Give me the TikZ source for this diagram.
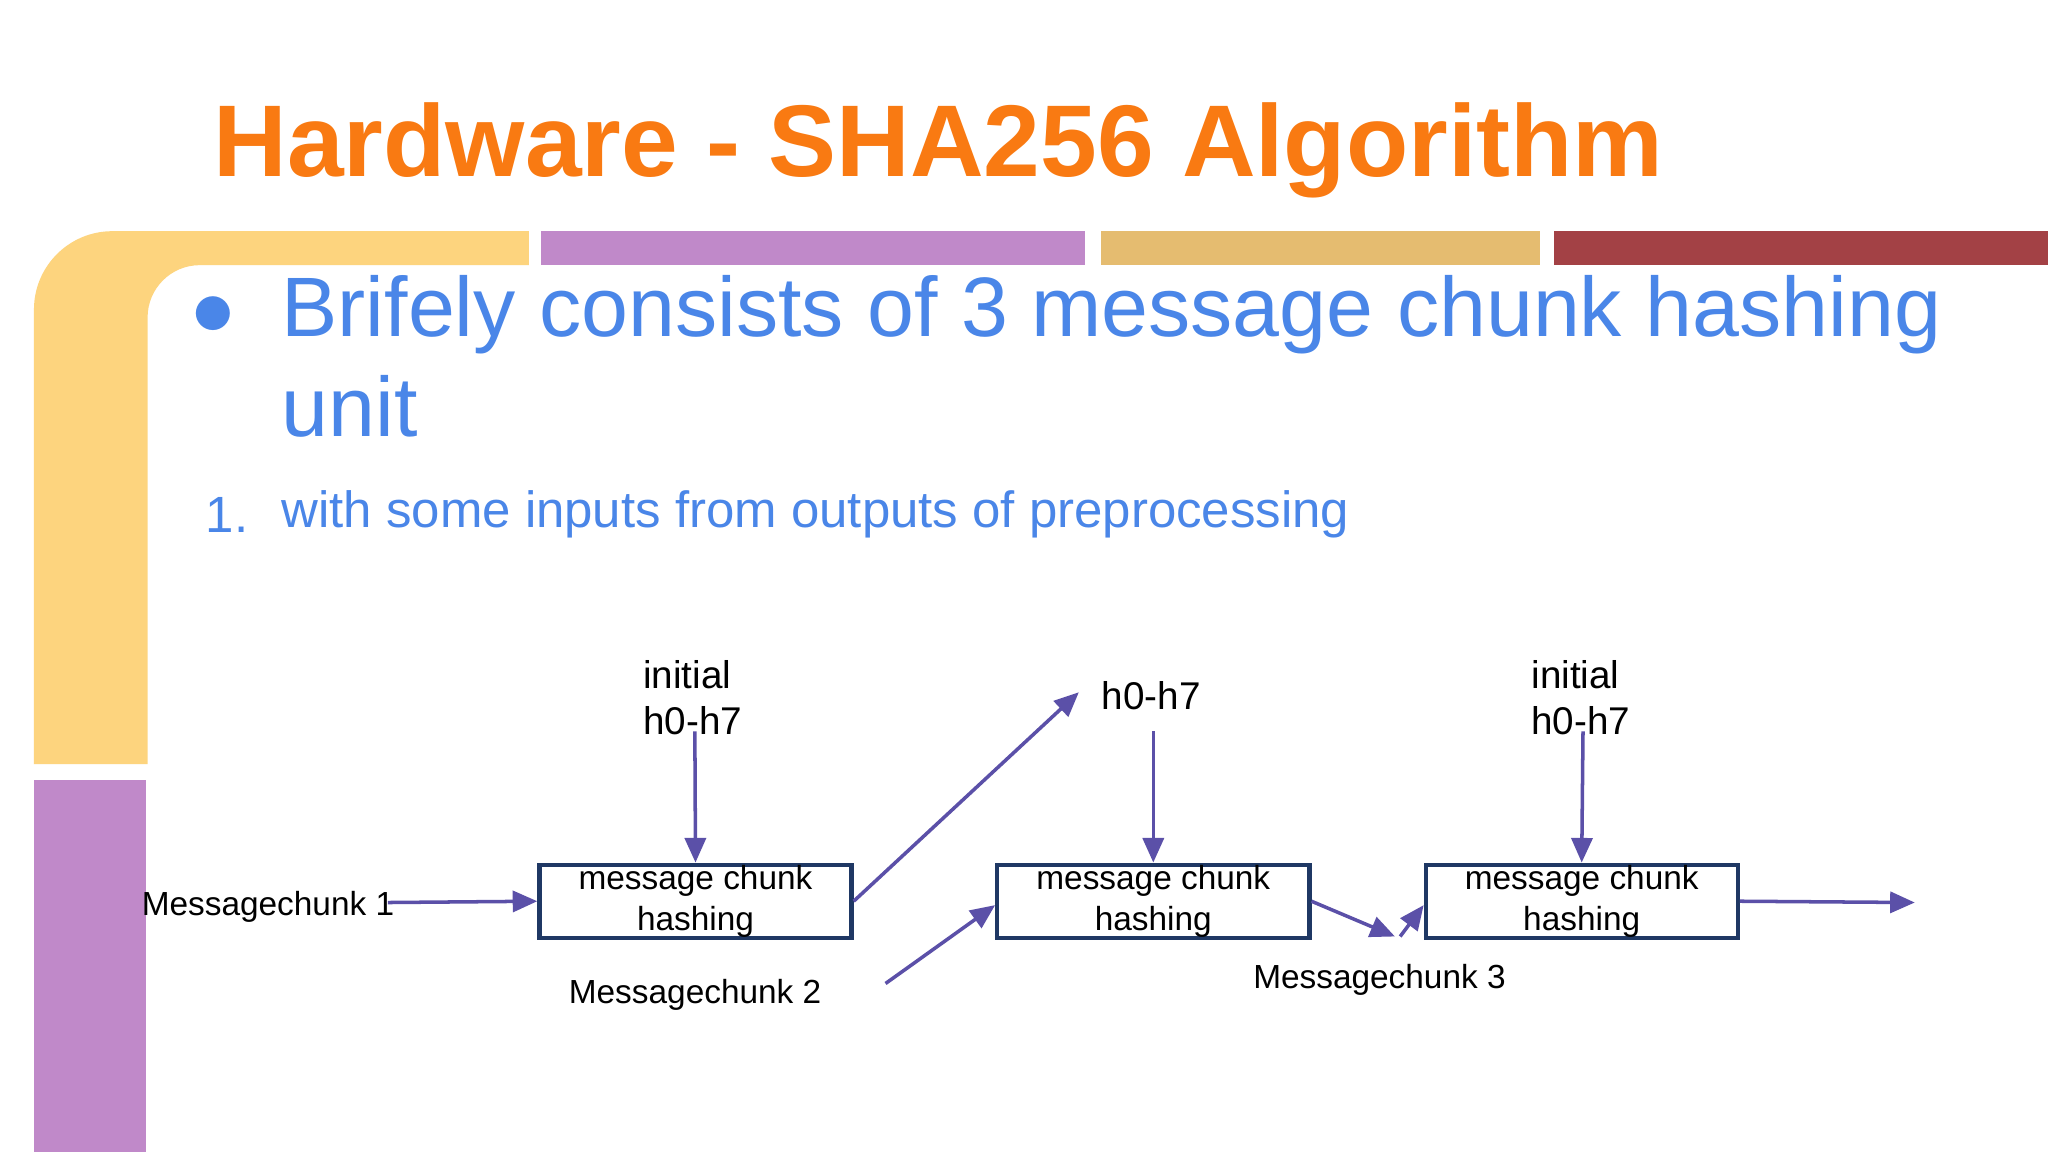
\documentclass[tikz,border=0pt]{standalone}
\usepackage{fontspec}
\setmainfont{Liberation Sans}
\usetikzlibrary{arrows.meta}
\definecolor{ttl}{HTML}{F97A12}
\definecolor{blu}{HTML}{4A86E8}
\definecolor{yel}{HTML}{FDD47E}
\definecolor{pur}{HTML}{C089C9}
\definecolor{tan}{HTML}{E5BC70}
\definecolor{dred}{HTML}{A34145}
\definecolor{arr}{HTML}{5B50A8}
\definecolor{nav}{HTML}{1F3864}
\newlength{\pxu}\setlength{\pxu}{0.013061cm}
\tikzset{
 hbox/.style={draw=nav,line width=1.2pt,minimum width=239\pxu,minimum height=56\pxu,inner sep=0pt,align=center,font=\fontsize{9.5}{11.5}\selectfont},
 lab/.style={anchor=west,inner sep=0pt,font=\fontsize{11}{13}\selectfont,align=left},
 con/.style={draw=arr,line width=1pt,-{Triangle[length=7pt,width=6pt]}},
}
\begin{document}
\begin{tikzpicture}[x=0.013061cm,y=-0.013061cm]
\useasboundingbox[fill=white] (0,0) rectangle (1568,882);
% decorations
\fill[yel] (26,585) -- (26,237) arc[start angle=180,end angle=270,radius=60] -- (405,177) -- (405,203) -- (153,203) arc[start angle=270,end angle=180,radius=40] -- (113,585) -- cycle;
\fill[pur] (26,597) rectangle (112,882);
\fill[pur] (414,177) rectangle (831,203);
\fill[tan] (843,177) rectangle (1179,203);
\fill[dred] (1190,177) rectangle (1568,203);
% texts
\node[anchor=west,inner sep=0pt,text=ttl,font=\fontsize{29}{34}\selectfont\bfseries] (title) at (163,115) {Hardware - SHA256 Algorithm};
\node[anchor=west,inner sep=0pt,text=blu,font=\fontsize{24}{28}\selectfont] (b1) at (146,242) {$\bullet$};
\node[anchor=north west,inner sep=0pt,text=blu,font=\fontsize{24}{28.5}\selectfont,align=left] (b1t) at (215,210) {Brifely consists of 3 message chunk hashing\\unit};
\node[anchor=west,inner sep=0pt,text=blu,font=\fontsize{14.5}{18}\selectfont] (n1) at (157,394) {1.};
\node[anchor=west,inner sep=0pt,text=blu,font=\fontsize{14.5}{18}\selectfont] (n1t) at (215,394) {with some inputs from outputs of preprocessing};
% diagram
\node[hbox] (h1) at (532.5,690) {message chunk\\hashing};
\node[hbox] (h2) at (883,690) {message chunk\\hashing};
\node[hbox] (h3) at (1211,690) {message chunk\\hashing};
\node[lab] (i1) at (492,534) {initial\\h0-h7};
\node[lab] (i2) at (843,533) {h0-h7};
\node[lab] (i3) at (1172,534) {initial\\h0-h7};
\node[lab,font=\fontsize{9.5}{11}\selectfont] (m1) at (108,694) {Messagechunk 1};
\node[lab,font=\fontsize{9.5}{11}\selectfont] (m2) at (435,762) {Messagechunk 2};
\node[lab,font=\fontsize{9.5}{11}\selectfont] (m3) at (959,750) {Messagechunk 3};
\coordinate (a1) at (532,560);
\coordinate (a2) at (883,560);
\coordinate (a3) at (1212,560);
\coordinate (c1) at (297,691);
\coordinate (up) at (826,530);
\coordinate (c2) at (678,753);
\coordinate (mid) at (1068,717);
\coordinate (mid2) at (1072,717);
\coordinate (out) at (1466,691);
\draw[con] (a1) -- (h1.north);
\draw[con] (a2) -- (h2.north);
\draw[con] (a3) -- (h3.north);
\draw[con] (c1) -- (h1.west);
\draw[con] (h1.east) -- (up);
\draw[con] (c2) -- (h2.west |- 693,693);
\draw[con] (h2.east) -- (mid);
\draw[con] (mid2) -- (1090,693);
\draw[con] (h3.east) -- (out);
\end{tikzpicture}
\end{document}
